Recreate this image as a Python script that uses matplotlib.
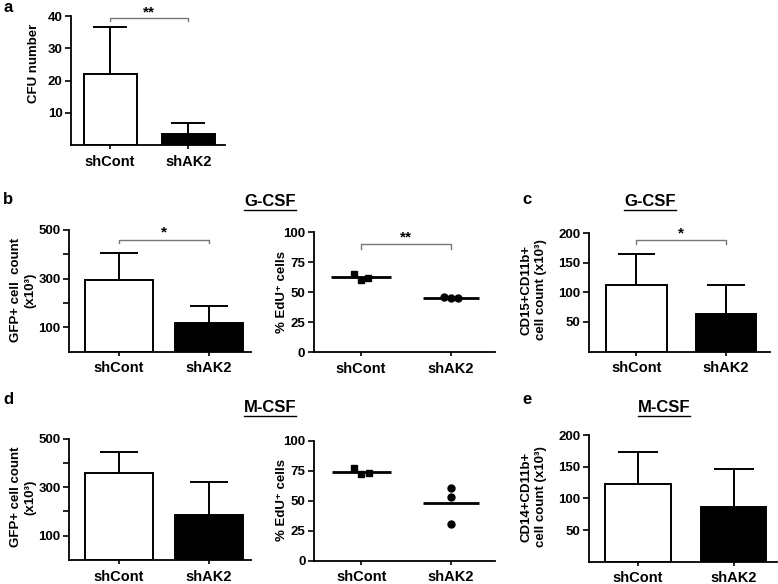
import matplotlib
matplotlib.use("Agg")
import matplotlib.pyplot as plt
from matplotlib.lines import Line2D

plt.rcParams["font.family"] = ["Liberation Sans", "DejaVu Sans"]
plt.rcParams["font.weight"] = "bold"
plt.rcParams["font.size"] = 9.5

groups = ["shCont", "shAK2"]

# a: CFU
cfu_mean = [22.0, 3.3]
cfu_err = [14.6, 3.4]
# b: G-CSF
gcsf_gfp_mean = [296, 117]
gcsf_gfp_err = [108, 70]
gcsf_edu_cont = [65, 60.5, 62]
gcsf_edu_ak2 = [46.5, 45, 45]
# c: G-CSF CD15+CD11b+
cd15_mean = [113, 64]
cd15_err = [52, 49]
# d: M-CSF
mcsf_gfp_mean = [359, 184]
mcsf_gfp_err = [85, 137]
mcsf_edu_cont = [77, 72, 73]
mcsf_edu_ak2 = [61, 53, 30.5]
# e: M-CSF CD14+CD11b+
cd14_mean = [122.6, 85.8]
cd14_err = [50, 60]

W, H = 778, 584
fig = plt.figure(figsize=(W / 100, H / 100), dpi=100)


def rect(l, r, top, bot):
    return [l / W, 1 - bot / H, (r - l) / W, (bot - top) / H]


def style(ax, xlim, ylim, yticks, ylabels):
    ax.set_xlim(*xlim)
    ax.set_ylim(*ylim)
    for s in ["top", "right"]:
        ax.spines[s].set_visible(False)
    for s in ["left", "bottom"]:
        ax.spines[s].set_linewidth(1.3)
    ax.set_yticks(yticks)
    ax.set_yticklabels(ylabels)
    ax.set_xticks([0, 1])
    ax.set_xticklabels(groups, fontsize=10.5)
    ax.tick_params(axis="y", direction="out", length=4, width=1.2, pad=2)
    ax.tick_params(axis="x", direction="out", length=3, width=1.2, pad=4)


def bars(ax, mean, err, width, cap):
    ax.bar([0, 1], mean, width=width, color=["white", "black"],
           edgecolor="black", linewidth=1.4, zorder=2)
    for i in range(2):
        ax.vlines(i, mean[i], mean[i] + err[i], color="black", lw=1.4, zorder=3)
        ax.hlines(mean[i] + err[i], i - cap, i + cap, color="black", lw=1.4, zorder=3)


def dots(ax, cont, ak2, jit_cont, jit_ak2):
    xs = [0 + j for j in jit_cont]
    ax.plot(xs, cont, "s", color="black", ms=5, clip_on=False, zorder=3)
    xs = [1 + j for j in jit_ak2]
    ax.plot(xs, ak2, "o", color="black", ms=5, clip_on=False, zorder=3)
    ax.hlines(sum(cont) / len(cont), -0.33, 0.33, color="black", lw=2, zorder=2)
    ax.hlines(sum(ak2) / len(ak2), 1 - 0.31, 1 + 0.31, color="black", lw=2, zorder=2)


def bracket(ax, y, drop, stars, sy):
    ax.plot([0, 0, 1, 1], [y - drop, y, y, y - drop], color="#777777", lw=1,
            clip_on=False)
    ax.text(0.5, sy, stars, ha="center", va="center", fontsize=11, clip_on=False)


# panel a
ax = fig.add_axes(rect(71, 225, 16, 145))
bars(ax, cfu_mean, cfu_err, 0.68, 0.22)
style(ax, (-0.5, 1.47), (0, 40), [10, 20, 30, 40], ["10", "20", "30", "40"])
bracket(ax, 39.4, 0.9, "**", 41.2)
fig.text(34 / W, 1 - 63 / H, "CFU number", rotation=90, ha="center", va="center",
         fontsize=9.5)

# panel b left
ax = fig.add_axes(rect(69, 251, 230, 351.6))
bars(ax, gcsf_gfp_mean, gcsf_gfp_err, 0.75, 0.21)
style(ax, (-0.556, 1.467), (0, 500), [100, 200, 300, 400, 500],
      ["100", "", "300", "", "500"])
bracket(ax, 459, 13, "*", 490)
fig.text(23 / W, 1 - 290 / H, "GFP+ cell  count\n(x10³)", rotation=90,
         ha="center", va="center", fontsize=9.5, linespacing=1.3)

# panel b right
ax = fig.add_axes(rect(313.5, 495, 232.3, 352.3))
dots(ax, gcsf_edu_cont, gcsf_edu_ak2, [-0.08, 0, 0.08], [-0.08, 0, 0.08])
style(ax, (-0.53, 1.49), (0, 100), [0, 25, 50, 75, 100],
      ["0", "25", "50", "75", "100"])
bracket(ax, 90, 3.5, "**", 96)
fig.text(282 / W, 1 - 292 / H, "% EdU⁺ cells", rotation=90, ha="center",
         va="center", fontsize=9.5)

# panel c
ax = fig.add_axes(rect(589, 770, 233, 351.5))
bars(ax, cd15_mean, cd15_err, 0.67, 0.21)
style(ax, (-0.53, 1.49), (0, 200), [50, 100, 150, 200],
      ["50", "100", "150", "200"])
bracket(ax, 188, 6, "*", 200)
fig.text(534 / W, 1 - 290 / H, "CD15+CD11b+\ncell count (x10³)", rotation=90,
         ha="center", va="center", fontsize=9.5, linespacing=1.3)

# panel d left
ax = fig.add_axes(rect(69, 251, 438.5, 560))
bars(ax, mcsf_gfp_mean, mcsf_gfp_err, 0.75, 0.21)
style(ax, (-0.556, 1.467), (0, 500), [100, 200, 300, 400, 500],
      ["100", "", "300", "", "500"])
fig.text(23 / W, 1 - 497 / H, "GFP+ cell count\n(x10³)", rotation=90,
         ha="center", va="center", fontsize=9.5, linespacing=1.3)

# panel d right
ax = fig.add_axes(rect(314, 495, 440.7, 560.7))
dots(ax, mcsf_edu_cont, mcsf_edu_ak2, [-0.08, 0, 0.08], [0, 0, 0])
style(ax, (-0.53, 1.49), (0, 100), [0, 25, 50, 75, 100],
      ["0", "25", "50", "75", "100"])
fig.text(282 / W, 1 - 500 / H, "% EdU⁺ cells", rotation=90, ha="center",
         va="center", fontsize=9.5)

# panel e
ax = fig.add_axes(rect(589, 777, 435, 561.7))
bars(ax, cd14_mean, cd14_err, 0.68, 0.21)
style(ax, (-0.51, 1.45), (0, 200), [50, 100, 150, 200],
      ["50", "100", "150", "200"])
fig.text(534 / W, 1 - 497 / H, "CD14+CD11b+\ncell count (x10³)", rotation=90,
         ha="center", va="center", fontsize=9.5, linespacing=1.3)

# panel letters
for letter, x, y in [("a", 3, 8), ("b", 3, 199), ("c", 522, 199),
                     ("d", 3, 400), ("e", 522, 400)]:
    fig.text(x / W, 1 - y / H, letter, ha="left", va="center", fontsize=12)

# underlined titles
titles = []
for label, x, y in [("G-CSF", 270, 202), ("G-CSF", 650, 202),
                    ("M-CSF", 270, 408), ("M-CSF", 664, 408)]:
    t = fig.text(x / W, 1 - y / H, label, ha="center", va="center", fontsize=12)
    titles.append((t, y))

fig.canvas.draw()
r = fig.canvas.get_renderer()
for t, y in titles:
    bb = t.get_window_extent(r)
    uy = 1 - (y + 8) / H
    fig.add_artist(Line2D([bb.x0 / W, bb.x1 / W], [uy, uy], color="black",
                          lw=1, transform=fig.transFigure))

fig.savefig("out.png", dpi=100)
